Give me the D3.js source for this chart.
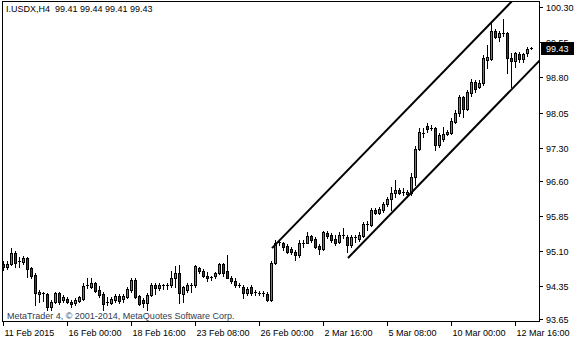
<!DOCTYPE html>
<html>
<head>
<meta charset="UTF-8">
<title>I.USDX,H4</title>
<style>
  body { margin: 0; background: #fff; }
  svg { display: block; font-family: "Liberation Sans", Arial, sans-serif; font-size: 9px; }
</style>
<script src="https://d3js.org/d3.v7.min.js"></script>
</head>
<body>
<svg width="580" height="340"></svg>
<script>
// H4 candles, 11 Feb 2015 .. 12 Mar 2015
const opens = [94.82,94.76,94.82,95.05,94.86,94.86,94.95,94.73,94.59,94.18,94.20,94.18,93.90,94.01,94.20,94.05,94.07,94.01,93.99,94.03,
  94.07,94.35,94.33,94.42,94.27,94.18,93.99,93.99,94.05,94.14,94.07,94.12,94.27,94.48,94.14,94.05,93.99,94.16,94.37,94.31,
  94.35,94.37,94.37,94.52,94.63,94.18,94.27,94.35,94.37,94.73,94.67,94.56,94.52,94.56,94.63,94.82,94.67,94.52,94.46,94.37,
  94.33,94.20,94.33,94.22,94.20,94.20,94.18,94.05,94.84,95.27,95.27,95.20,95.14,95.07,95.01,95.27,95.27,95.42,95.35,95.20,
  95.14,95.48,95.44,95.35,95.29,95.44,95.40,95.22,95.40,95.35,95.42,95.65,95.65,95.97,95.91,95.97,96.10,96.21,96.33,96.40,
  96.35,96.31,96.33,96.67,97.27,97.59,97.76,97.72,97.72,97.36,97.49,97.59,97.61,97.85,98.04,98.38,98.12,98.47,98.70,98.59,
  98.68,99.17,99.19,99.79,99.66,99.73,99.75,99.21,99.15,99.30,99.19,99.32,99.41];
const highs = [94.88,94.88,95.16,95.10,94.97,94.99,94.97,94.76,94.63,94.27,94.22,94.20,94.05,94.22,94.22,94.16,94.12,94.05,94.09,94.14,
  94.42,94.52,94.52,94.44,94.35,94.22,94.12,94.12,94.18,94.18,94.18,94.33,94.52,94.52,94.16,94.09,94.20,94.42,94.42,94.42,
  94.39,94.42,94.67,94.78,94.80,94.35,94.42,94.42,94.80,94.76,94.71,94.65,94.56,94.65,94.84,94.84,95.01,94.56,94.52,94.42,
  94.37,94.33,94.37,94.27,94.24,94.24,94.22,94.88,95.33,95.33,95.29,95.24,95.18,95.12,95.33,95.33,95.50,95.44,95.40,95.24,
  95.52,95.52,95.48,95.44,95.50,95.59,95.44,95.44,95.44,95.50,95.71,95.74,96.01,96.01,96.03,96.14,96.25,96.46,96.61,96.44,
  96.44,96.40,96.76,97.34,97.72,97.72,97.83,97.78,97.74,97.61,97.74,97.68,97.93,98.10,98.42,98.40,98.53,98.76,98.74,98.74,
  99.28,99.49,99.98,99.83,99.79,100.04,99.77,99.32,99.34,99.34,99.32,99.45,99.44];
const lows = [94.69,94.71,94.80,94.76,94.76,94.82,94.54,94.52,93.95,94.01,94.03,93.84,93.84,93.99,93.97,94.01,93.99,93.90,93.95,94.01,
  94.05,94.31,94.31,94.22,94.12,93.84,93.95,93.97,94.01,93.99,94.01,94.09,94.22,94.09,93.95,93.90,93.84,94.14,94.18,94.27,
  94.29,94.29,94.33,94.33,93.99,94.01,94.22,94.22,94.33,94.63,94.54,94.46,94.48,94.52,94.61,94.56,94.52,94.42,94.33,94.33,
  94.09,94.16,94.16,94.16,94.16,94.14,94.03,94.03,94.82,95.22,95.12,95.05,95.03,94.90,94.97,95.18,95.27,95.29,95.16,95.03,
  95.12,95.37,95.29,95.22,95.27,95.37,95.07,95.18,95.29,95.31,95.40,95.54,95.63,95.89,95.89,95.93,96.06,95.97,96.25,96.31,
  96.29,96.25,96.29,96.50,97.25,97.53,97.63,97.68,97.25,97.32,97.44,97.57,97.59,97.83,97.98,97.95,98.10,98.40,98.49,98.57,
  98.64,99.00,99.17,99.64,99.57,99.68,98.89,98.59,99.02,99.13,99.13,99.26,99.41];
const closes = [94.76,94.82,95.05,94.84,94.89,94.95,94.71,94.56,94.20,94.22,94.18,93.90,94.01,94.20,94.01,94.12,94.01,93.97,94.05,94.12,
  94.35,94.37,94.42,94.24,94.16,93.97,94.01,94.07,94.14,94.03,94.14,94.29,94.48,94.12,93.97,93.99,94.16,94.37,94.31,94.37,
  94.37,94.35,94.52,94.63,94.20,94.33,94.37,94.37,94.78,94.67,94.56,94.52,94.54,94.63,94.82,94.63,94.52,94.46,94.37,94.35,
  94.20,94.29,94.20,94.20,94.21,94.18,94.05,94.84,95.27,95.29,95.18,95.07,95.07,95.01,95.27,95.25,95.42,95.33,95.18,95.14,
  95.50,95.42,95.33,95.27,95.44,95.42,95.22,95.40,95.37,95.44,95.67,95.67,95.97,95.91,95.99,96.10,96.21,96.33,96.40,96.33,
  96.36,96.36,96.67,97.27,97.63,97.61,97.70,97.73,97.36,97.57,97.59,97.63,97.87,98.04,98.38,98.12,98.49,98.70,98.55,98.68,
  99.21,99.23,99.79,99.66,99.75,99.75,99.21,99.15,99.32,99.19,99.30,99.41,99.43];

// time axis: one label every 16 bars
const dateBars = [0, 16, 32, 48, 64, 80, 96, 112, 128];
const dateLabels = ["11 Feb 2015", "16 Feb 00:00", "18 Feb 16:00", "23 Feb 08:00", "26 Feb 00:00",
  "2 Mar 16:00", "5 Mar 08:00", "10 Mar 00:00", "12 Mar 16:00"];
const priceTicks = [100.30, 99.55, 98.80, 98.05, 97.30, 96.60, 95.85, 95.10, 94.35, 93.65];

// channel trend lines [bar, price]
const channelUpper = [[67.25, 95.16], [128, 100.49]];
const channelLower = [[86.25, 94.95], [134.5, 99.19]];

const svg = d3.select("svg");
const L = 2, T = 1, R = 539, B = 321;

const x = d3.scaleLinear().domain([0, 132]).range([3, 531]);
const y = d3.scaleLinear().domain([93.65, 100.30]).range([319, 7]);

svg.append("clipPath").attr("id", "plot")
  .append("rect").attr("x", L + 1).attr("y", T + 1).attr("width", R - L - 1).attr("height", B - T - 1);

// price axis
priceTicks.forEach(v => {
  const yy = Math.round(y(v)) + 0.5;
  svg.append("line").attr("x1", R + 1).attr("x2", R + 4).attr("y1", yy).attr("y2", yy).attr("stroke", "#000");
  svg.append("text").attr("x", R + 7).attr("y", yy).attr("dy", "0.35em").attr("fill", "#000").text(v.toFixed(2));
});

// time axis
dateBars.forEach((b, k) => {
  const xx = Math.round(x(b)) + 0.5;
  svg.append("line").attr("x1", xx).attr("x2", xx).attr("y1", B + 1).attr("y2", B + 5).attr("stroke", "#000");
  svg.append("text").attr("x", xx + 1).attr("y", 333).attr("dy", "0.35em").attr("fill", "#000").text(dateLabels[k]);
});

const g = svg.append("g").attr("clip-path", "url(#plot)");

const candles = d3.range(opens.length).map(i => ({ i, o: opens[i], h: highs[i], l: lows[i], c: closes[i] }));

// wicks
g.selectAll("line.wick").data(candles).join("line")
  .attr("class", "wick")
  .attr("x1", d => Math.round(x(d.i)) + 0.5).attr("x2", d => Math.round(x(d.i)) + 0.5)
  .attr("y1", d => Math.round(y(d.h))).attr("y2", d => Math.round(y(d.l)) + 1)
  .attr("stroke", "#000");

// bodies
candles.forEach(d => {
  const cx = Math.round(x(d.i));
  const yt = Math.round(y(Math.max(d.o, d.c)));
  const yb = Math.round(y(Math.min(d.o, d.c)));
  if (yb - yt < 2) {
    g.append("line").attr("x1", cx - 1).attr("x2", cx + 2)
      .attr("y1", yt + 0.5).attr("y2", yt + 0.5).attr("stroke", "#000");
  } else {
    g.append("rect").attr("x", cx - 0.5).attr("y", yt + 0.5)
      .attr("width", 2).attr("height", yb - yt)
      .attr("fill", d.c >= d.o ? "#00d000" : "#d00000")
      .attr("stroke", "#000");
  }
});

// channel
[channelUpper, channelLower].forEach(pts => {
  g.append("line")
    .attr("x1", x(pts[0][0])).attr("y1", y(pts[0][1]))
    .attr("x2", x(pts[1][0])).attr("y2", y(pts[1][1]))
    .attr("stroke", "#000").attr("stroke-width", 2);
});

// frame
svg.append("rect").attr("x", L + 0.5).attr("y", T + 0.5)
  .attr("width", R - L).attr("height", B - T)
  .attr("fill", "none").attr("stroke", "#000");

// last price marker
const last = closes[closes.length - 1];
const ly = Math.round(y(last));
svg.append("rect").attr("x", R + 2).attr("y", ly - 6).attr("width", 33).attr("height", 13).attr("fill", "#000");
svg.append("text").attr("x", R + 7).attr("y", ly + 0.5).attr("dy", "0.35em").attr("fill", "#fff").text(last.toFixed(2));

// labels
svg.append("text").attr("x", 6).attr("y", 9).attr("dy", "0.35em").attr("fill", "#000")
  .text("I.USDX,H4  " + [opens[132], highs[132], lows[132], closes[132]].map(v => v.toFixed(2)).join(" "))
  .attr("xml:space", "preserve").style("white-space", "pre");
svg.append("text").attr("x", 7).attr("y", 316).attr("dy", "0.35em").attr("fill", "#2f3a52")
  .text("MetaTrader 4, \u00a9 2001-2014, MetaQuotes Software Corp.");
</script>
</body>
</html>
